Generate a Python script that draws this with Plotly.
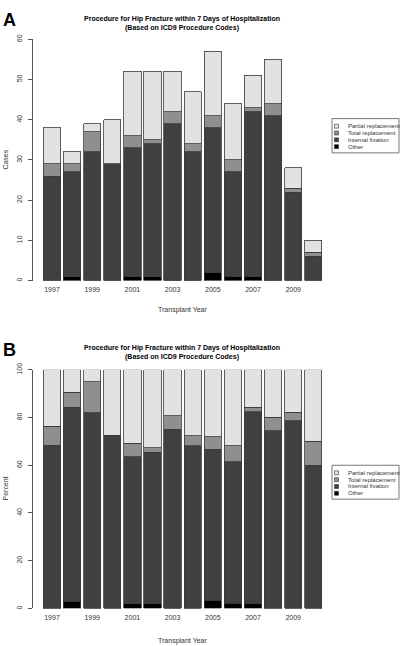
import plotly.graph_objects as go
import numpy as np

years = [1997, 1998, 1999, 2000, 2001, 2002, 2003, 2004, 2005, 2006, 2007, 2008, 2009, 2010]
other = [0, 1, 0, 0, 1, 1, 0, 0, 2, 1, 1, 0, 0, 0]
internal_fixation = [26, 26, 32, 29, 32, 33, 39, 32, 36, 26, 41, 41, 22, 6]
total_replacement = [3, 2, 5, 0, 3, 1, 3, 2, 3, 3, 1, 3, 1, 1]
partial_replacement = [9, 3, 2, 11, 16, 17, 10, 13, 16, 14, 8, 11, 5, 3]
tick_years = [1997, 1999, 2001, 2003, 2005, 2007, 2009]

series_names = ["Other", "Internal fixation", "Total replacement", "Partial replacement"]
series_vals = [other, internal_fixation, total_replacement, partial_replacement]
colors = ["#000000", "#404040", "#8f8f8f", "#e2e2e2"]

totals = np.sum(np.array(series_vals), axis=0)
pct_vals = [list(np.array(v) / totals * 100) for v in series_vals]

W, H = 400, 646
def px(x): return x / W
def py(y): return 1 - y / H

fig = go.Figure()
for name, vals, col in zip(series_names, series_vals, colors):
    fig.add_trace(go.Bar(x=years, y=vals, name=name, marker=dict(color=col, line=dict(color="#3a3a3a", width=0.8)),
                         xaxis="x", yaxis="y", showlegend=False))
for name, vals, col in zip(series_names, pct_vals, colors):
    fig.add_trace(go.Bar(x=years, y=vals, name=name, marker=dict(color=col, line=dict(color="#3a3a3a", width=0.8)),
                         xaxis="x2", yaxis="y2", showlegend=False))

xr = [1997 - 19 / 20.1, 2010 + (330 - 313.3) / 20.1]
xcommon = dict(range=xr, tickmode="array", tickvals=tick_years, ticktext=[str(t) for t in tick_years],
               showline=False, showgrid=False, zeroline=False, ticks="outside", ticklen=2,
               tickcolor="rgba(0,0,0,0)", tickfont=dict(size=7, color="#333"))
ycommon = dict(showline=True, linecolor="#555", linewidth=1, showgrid=False, zeroline=False,
               ticks="outside", ticklen=4, tickcolor="#555", tickangle=-90, ticklabelstandoff=3,
               tickfont=dict(size=7, color="#333"))

fig.update_layout(
    width=W, height=H, barmode="stack", bargap=0.14,
    plot_bgcolor="white", paper_bgcolor="white",
    margin=dict(l=0, r=0, t=0, b=0),
    font=dict(family="Liberation Sans, Arial, sans-serif", color="#222"),
    xaxis=dict(domain=[px(33), px(330)], anchor="y", **xcommon),
    yaxis=dict(domain=[py(277), py(32.7)], range=[0, 60], dtick=10, anchor="x", **ycommon),
    xaxis2=dict(domain=[px(33), px(330)], anchor="y2", **xcommon),
    yaxis2=dict(domain=[py(609), py(367.3)], range=[0, 100], dtick=20, anchor="x2", **ycommon),
)

ann = []
shapes = []
title1 = "Procedure for Hip Fracture within 7 Days of Hospitalization"
title2 = "(Based on ICD9 Procedure Codes)"
for letter, ytop, t1y, xt_y, ycenter, ytitle, leg_top, leg_bot in [
        ("A", 1, 12.3, 306.7, 155, "Cases", 113, 147.7),
        ("B", 335, 345.7, 641.7, 488, "Percent", 464, 498.3)]:
    ann.append(dict(text="<b>" + letter + "</b>", x=px(1), y=py(ytop), xref="paper", yref="paper",
                    xanchor="left", yanchor="top", showarrow=False, font=dict(size=18, color="#000")))
    ann.append(dict(text="<b>" + title1 + "</b>", x=px(181.5), y=py(t1y), xref="paper", yref="paper",
                    xanchor="center", yanchor="middle", showarrow=False, font=dict(size=7, color="#000")))
    ann.append(dict(text="<b>" + title2 + "</b>", x=px(181.5), y=py(t1y + 8.7), xref="paper", yref="paper",
                    xanchor="center", yanchor="middle", showarrow=False, font=dict(size=7, color="#000")))
    ann.append(dict(text="Transplant Year", x=px(182), y=py(xt_y), xref="paper", yref="paper",
                    xanchor="center", yanchor="middle", showarrow=False, font=dict(size=7, color="#333")))
    ann.append(dict(text=ytitle, x=px(5.5), y=py(ycenter), xref="paper", yref="paper", textangle=-90,
                    xanchor="center", yanchor="middle", showarrow=False, font=dict(size=7, color="#333")))
    # legend box
    shapes.append(dict(type="rect", xref="paper", yref="paper", x0=px(332), x1=px(399),
                       y0=py(leg_bot), y1=py(leg_top), line=dict(color="#555", width=0.8), fillcolor="white"))
    for i, (name, col) in enumerate(zip(series_names[::-1], colors[::-1])):
        yc = leg_top + 7.7 + i * 6.9
        shapes.append(dict(type="rect", xref="paper", yref="paper", x0=px(334.5), x1=px(338.5),
                           y0=py(yc + 2), y1=py(yc - 2), line=dict(color="#333", width=0.6), fillcolor=col))
        ann.append(dict(text=name, x=px(345.5), y=py(yc), xref="paper", yref="paper",
                        xanchor="left", yanchor="middle", showarrow=False, font=dict(size=6, color="#333")))

fig.update_layout(annotations=ann, shapes=shapes)
fig.write_html("out.html", config={"displayModeBar": False},
               post_script="document.body.style.margin='0';document.body.style.overflow='hidden';")
